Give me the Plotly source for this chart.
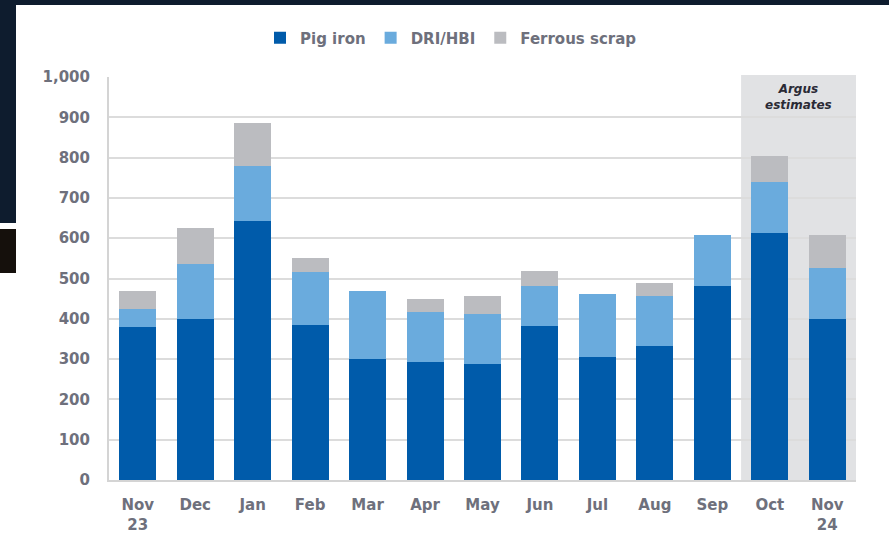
import plotly.graph_objects as go

months = ["Nov<br>23", "Dec", "Jan", "Feb", "Mar", "Apr", "May", "Jun", "Jul", "Aug", "Sep", "Oct", "Nov<br>24"]
pig_iron = [380, 400, 643, 385, 300, 292, 287, 381, 306, 332, 481, 612, 400]
dri_hbi = [45, 135, 135, 132, 168, 124, 124, 100, 155, 125, 126, 128, 127]
ferrous_scrap = [45, 90, 107, 33, 0, 32, 46, 38, 0, 31, 0, 63, 80]
y_ticks = [0, 100, 200, 300, 400, 500, 600, 700, 800, 900, 1000]

FONT = "DejaVu Sans"
TXT = "#6e707c"

fig = go.Figure()
fig.add_trace(go.Bar(name="Pig iron", x=months, y=pig_iron, marker=dict(color="#005baa", line=dict(width=0))))
fig.add_trace(go.Bar(name="DRI/HBI", x=months, y=dri_hbi, marker=dict(color="#6aabdd", line=dict(width=0))))
fig.add_trace(go.Bar(name="Ferrous scrap", x=months, y=ferrous_scrap, marker=dict(color="#bbbcc0", line=dict(width=0))))

W, H = 889, 538
L, R, T, B = 109, 33, 77, 58
pw, ph = W - L - R, H - T - B

def px(x):
    return (x - L) / pw

def py(y):
    return (H - B - y) / ph

shapes = [
    # Argus estimates shaded region
    dict(type="rect", xref="x", yref="paper", x0=10.5, x1=12.5, y0=0, y1=py(75),
         fillcolor="#e1e2e4", line=dict(width=0), layer="below"),
    # dark photo background strips
    dict(type="rect", xref="paper", yref="paper", x0=px(0), x1=px(W), y0=py(0), y1=py(5),
         fillcolor="#0e1c2e", line=dict(width=0), layer="above"),
    dict(type="rect", xref="paper", yref="paper", x0=px(0), x1=px(16), y0=py(0), y1=py(223),
         fillcolor="#0e1c2e", line=dict(width=0), layer="above"),
    dict(type="rect", xref="paper", yref="paper", x0=px(0), x1=px(16), y0=py(229), y1=py(273),
         fillcolor="#15100c", line=dict(width=0), layer="above"),
]

fig.update_layout(
    width=W, height=H,
    barmode="stack",
    bargap=0.355,
    paper_bgcolor="white",
    plot_bgcolor="rgba(0,0,0,0)",
    margin=dict(l=L, r=R, t=T, b=B),
    font=dict(family=FONT, size=15, color=TXT, weight="bold"),
    shapes=shapes,
    legend=dict(orientation="h", xanchor="center", x=px(451), yanchor="middle", y=py(38),
                font=dict(family=FONT, size=15, color=TXT, weight="bold"),
                itemwidth=30, bgcolor="rgba(0,0,0,0)", traceorder="normal"),
    annotations=[
        dict(text="<i>Argus<br>estimates</i>", xref="x", yref="paper", x=11.5, y=py(97),
             showarrow=False, font=dict(family=FONT, size=12, color="#2a2a35", weight="bold"),
             xanchor="center", yanchor="middle"),
    ],
)
fig.update_xaxes(
    showline=True, linecolor="#d4d4d4", linewidth=2, automargin=False,
    showgrid=False, ticks="outside", ticklen=10, tickcolor="rgba(0,0,0,0)",
    tickfont=dict(family=FONT, size=15, color=TXT, weight="bold"),
)
fig.update_yaxes(
    range=[0, 1000], tickvals=y_ticks, tickformat=",", automargin=False,
    showline=True, linecolor="#d4d4d4", linewidth=2,
    showgrid=True, gridcolor="#dcdcdc", gridwidth=1.5,
    ticks="outside", ticklen=14, tickcolor="rgba(0,0,0,0)",
    tickfont=dict(family=FONT, size=15, color=TXT, weight="bold"),
    zeroline=False,
)

fig.write_html("out.html", config={"displayModeBar": False},
               post_script="document.body.style.margin='0';document.body.style.overflow='hidden';")
